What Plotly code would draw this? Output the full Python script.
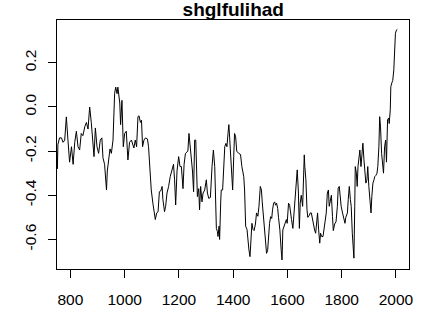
import plotly.graph_objects as go

years = [750, 752, 754, 760, 767, 773, 779, 785, 791, 797, 804, 810, 816, 822, 828, 834, 840, 846, 853, 859,
         865, 871, 877, 883, 887, 892, 898, 904, 910, 916, 920, 926, 933, 936, 941, 946, 951, 957, 963, 967,
         972, 975, 982, 985, 990, 995, 1000, 1006, 1012, 1018, 1025, 1031, 1034, 1039, 1044, 1049, 1053, 1058,
         1062, 1066, 1071, 1077, 1084, 1088, 1092, 1098, 1104, 1108, 1113, 1118, 1123, 1128, 1133, 1138, 1141,
         1147, 1151, 1156, 1162, 1168, 1174, 1180, 1184, 1188, 1193, 1199, 1204, 1209, 1215, 1219, 1224, 1229,
         1233, 1237, 1242, 1250, 1254, 1258, 1262, 1264, 1268, 1273, 1276, 1280, 1285, 1289, 1295, 1301, 1305,
         1310, 1316, 1322, 1327, 1332, 1335, 1338, 1342, 1344, 1348, 1350, 1354, 1356, 1361, 1365, 1369, 1373,
         1377, 1381, 1384, 1387, 1391, 1394, 1398, 1402, 1405, 1409, 1413, 1420, 1427, 1432, 1439, 1442, 1446,
         1451, 1454, 1458, 1462, 1465, 1469, 1473, 1477, 1482, 1486, 1491, 1495, 1500, 1504, 1507, 1511, 1516,
         1520, 1523, 1527, 1531, 1534, 1538, 1542, 1545, 1549, 1553, 1556, 1560, 1564, 1567, 1572, 1577, 1580,
         1583, 1587, 1592, 1596, 1599, 1604, 1608, 1612, 1615, 1620, 1624, 1627, 1633, 1636, 1640, 1644, 1647,
         1651, 1656, 1660, 1662, 1664, 1668, 1672, 1675, 1681, 1684, 1688, 1692, 1696, 1700, 1704, 1707, 1711,
         1715, 1719, 1722, 1726, 1731, 1734, 1738, 1743, 1747, 1751, 1754, 1758, 1762, 1766, 1769, 1774, 1779,
         1784, 1787, 1791, 1795, 1798, 1803, 1808, 1812, 1815, 1821, 1824, 1828, 1832, 1835, 1839, 1843, 1845,
         1848, 1850, 1854, 1857, 1860, 1863, 1867, 1871, 1874, 1878, 1882, 1885, 1889, 1893, 1896, 1900, 1904,
         1908, 1911, 1915, 1919, 1922, 1926, 1930, 1933, 1937, 1940, 1943, 1947, 1951, 1954, 1958, 1962, 1965,
         1969, 1973, 1975, 1979, 1981, 1985, 1988, 1992, 1995, 1998, 2002, 2005]

values = [-0.20, -0.28, -0.17, -0.14, -0.14, -0.16, -0.15, -0.045, -0.15, -0.25, -0.18, -0.26, -0.16, -0.11,
          -0.18, -0.195, -0.12, -0.13, -0.09, -0.07, -0.10, 0.00, -0.07, -0.15, -0.225, -0.095, -0.18, -0.21,
          -0.15, -0.14, -0.23, -0.26, -0.376, -0.29, -0.225, -0.19, -0.21, -0.15, 0.062, 0.09, 0.06, 0.09,
          0.018, -0.08, 0.03, -0.18, -0.12, -0.11, -0.24, -0.16, -0.15, -0.17, -0.186, -0.15, -0.18, -0.044,
          -0.04, -0.07, -0.06, -0.18, -0.15, -0.14, -0.145, -0.18, -0.27, -0.376, -0.436, -0.465, -0.51, -0.48,
          -0.475, -0.384, -0.38, -0.36, -0.42, -0.474, -0.45, -0.39, -0.36, -0.315, -0.29, -0.26, -0.33, -0.444,
          -0.29, -0.225, -0.27, -0.27, -0.37, -0.26, -0.21, -0.205, -0.20, -0.12, -0.18, -0.29, -0.384, -0.15,
          -0.15, -0.27, -0.406, -0.37, -0.466, -0.36, -0.43, -0.39, -0.376, -0.33, -0.39, -0.414, -0.41, -0.27,
          -0.195, -0.27, -0.376, -0.55, -0.565, -0.587, -0.54, -0.60, -0.43, -0.376, -0.376, -0.255, -0.18,
          -0.165, -0.18, -0.12, -0.08, -0.14, -0.225, -0.28, -0.376, -0.225, -0.12, -0.135, -0.20, -0.21, -0.215,
          -0.27, -0.316, -0.376, -0.54, -0.555, -0.60, -0.647, -0.678, -0.63, -0.527, -0.555, -0.56, -0.53,
          -0.48, -0.495, -0.45, -0.36, -0.376, -0.43, -0.49, -0.54, -0.60, -0.663, -0.65, -0.54, -0.527, -0.497,
          -0.505, -0.466, -0.436, -0.43, -0.445, -0.436, -0.46, -0.50, -0.557, -0.65, -0.693, -0.557, -0.54,
          -0.527, -0.51, -0.527, -0.436, -0.445, -0.50, -0.51, -0.55, -0.48, -0.42, -0.30, -0.285, -0.376, -0.55,
          -0.436, -0.40, -0.45, -0.316, -0.217, -0.27, -0.33, -0.466, -0.50, -0.49, -0.48, -0.48, -0.51, -0.54,
          -0.557, -0.572, -0.53, -0.48, -0.557, -0.617, -0.572, -0.587, -0.587, -0.557, -0.54, -0.48, -0.39,
          -0.376, -0.45, -0.42, -0.40, -0.497, -0.56, -0.53, -0.52, -0.45, -0.368, -0.36, -0.44, -0.45, -0.48,
          -0.50, -0.527, -0.50, -0.48, -0.42, -0.36, -0.42, -0.45, -0.572, -0.678, -0.685, -0.45, -0.27, -0.30,
          -0.36, -0.27, -0.24, -0.195, -0.27, -0.225, -0.164, -0.24, -0.30, -0.345, -0.33, -0.27, -0.36, -0.42,
          -0.48, -0.405, -0.345, -0.33, -0.315, -0.31, -0.30, -0.27, -0.18, -0.044, -0.09, -0.21, -0.285, -0.30,
          -0.18, -0.15, -0.25, -0.059, -0.05, -0.075, -0.013, 0.092, 0.11, 0.12, 0.168, 0.258, 0.334, 0.349, 0.352]

x_ticks = [800, 1000, 1200, 1400, 1600, 1800, 2000]
y_ticks = [-0.6, -0.4, -0.2, 0.0, 0.2]
y_tick_text = ["-0.6", "-0.4", "-0.2", "0.0", "0.2"]
title_text = "shglfulihad"

font_family = "Liberation Sans, Arial, sans-serif"

fig = go.Figure()
fig.add_trace(go.Scatter(x=years, y=values, mode="lines",
                         line=dict(color="black", width=1), showlegend=False,
                         hoverinfo="skip"))

fig.update_layout(
    width=428, height=326,
    margin=dict(l=57, r=19, t=20, b=57, pad=0),
    paper_bgcolor="white", plot_bgcolor="white",
    title=dict(text="<b>" + title_text + "</b>", x=0.545, xanchor="center",
               y=0.97, yanchor="middle",
               font=dict(family=font_family, size=19, color="black")),
    xaxis=dict(range=[750.6, 2048], tickvals=x_ticks, ticktext=[str(t) for t in x_ticks],
               ticks="outside", ticklen=8, tickcolor="black", tickwidth=1,
               showline=True, linecolor="black", linewidth=1, mirror=True,
               showgrid=False, zeroline=False, ticklabelstandoff=8,
               tickfont=dict(family=font_family, size=15.5, color="black")),
    yaxis=dict(range=[-0.734, 0.394], tickvals=y_ticks, ticktext=y_tick_text,
               ticks="outside", ticklen=8, tickcolor="black", tickwidth=1,
               showline=True, linecolor="black", linewidth=1, mirror=True,
               showgrid=False, zeroline=False, tickangle=-90, ticklabelstandoff=6,
               tickfont=dict(family=font_family, size=15.5, color="black")),
)

fig.write_html("out.html")
